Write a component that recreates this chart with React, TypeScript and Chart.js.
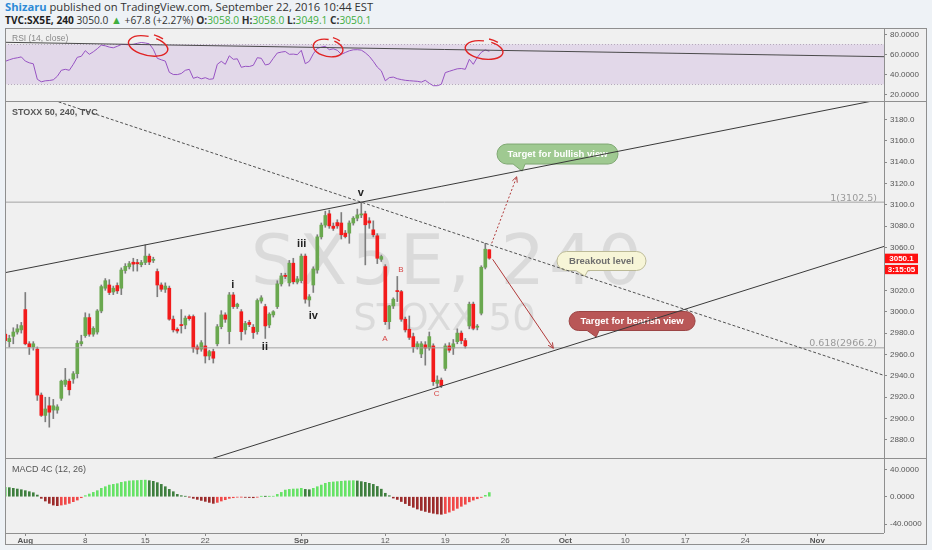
import React, { useEffect, useRef } from 'react';
import { Chart, registerables } from 'chart.js';

Chart.register(...registerables);

const FONT = '"Liberation Sans", Arial, sans-serif';
const DV = '"DejaVu Sans", Verdana, sans-serif';
const HEAD_FONT = '"Open Sans", "Liberation Sans", sans-serif';
Chart.defaults.font.family = FONT;

// ---------------- data ----------------
const START_INDEX = -5; // bar index of the first candle (Aug 1, first 4h bar = 0)

const OPEN = [2979, 2972, 2977, 2981, 2983,
  3002, 2970, 2967, 2965, 2922, 2903, 2912, 2908, 2908, 2919,
  2932, 2935, 2937, 2942, 2970, 2977.6, 2994.5, 2979, 2981, 3000.7,
  3022, 3025, 3018.5, 3024.5, 3022, 3038.5, 3042, 3046.3, 3046, 3044,
  3046, 3052, 3048, 3037.6, 3025, 3021, 3022, 2993, 2983.6, 2988,
  2987.6, 2995.5, 2995.5, 2967, 2965, 2968, 2958.6, 2962.7, 2970, 2986,
  2997, 2981.4, 3015.7, 3004.8, 3000, 2983, 2990, 2985.5, 2981.4, 3010,
  3004.8, 2987.6, 2997, 3004.8, 3026, 3034, 3027, 3045.4, 3027.7, 3029,
  3052, 3011, 3025, 3039, 3070, 3081, 3091.6, 3080, 3083.4, 3083,
  3073.5, 3073.5, 3083, 3087.5, 3090.5, 3091.6, 3085, 3076.6, 3071, 3049,
  3042.2, 2990.7, 3005.4, 3019.8, 3018.8, 2993, 2983.6, 2976.7, 2967.3, 2960.5,
  2969, 2966, 2968, 2933, 2936, 2947, 2968, 2966, 2972, 2980,
  2973, 2986.7, 3007, 2985.5, 2998.6, 3041.6, 3058];

const HIGH = [2983, 2978, 2985, 2988, 2990,
  3018, 2972, 2972, 2967, 2924, 2920, 2920, 2918, 2913, 2936,
  2947, 2937, 2944, 2973, 2978, 2999, 2998, 2986, 3002, 3025,
  3031, 3030, 3024, 3027, 3041, 3045, 3047, 3050, 3049, 3048,
  3062.5, 3054, 3051, 3040, 3027, 3027, 3024, 2996, 2985, 3002,
  2996, 2997, 2997, 2969, 2973, 2999, 2964, 2965, 2988, 3001,
  2999, 3018, 3018, 3008, 3002, 2991, 2992, 2988, 3012, 3015,
  3007, 2999, 3001, 3029, 3036, 3036, 3048, 3050, 3033, 3054,
  3054, 3016, 3042, 3072, 3083, 3094, 3095, 3083, 3086, 3092.8,
  3076, 3085, 3089, 3096, 3102.5, 3094, 3088, 3085, 3073, 3053,
  3044, 3006, 3013, 3033, 3020, 2995, 2996, 2980, 2972, 2972,
  2972, 2981, 2970, 2940, 2938, 2970, 2971, 2974, 2984, 2982,
  2975, 3009, 3009, 2988, 3043, 3064, 3058];

const LOW = [2970, 2967, 2970, 2979, 2980,
  2969, 2960, 2964, 2917, 2902, 2897, 2892, 2900, 2905, 2917,
  2930, 2922, 2933, 2938, 2968, 2976, 2977, 2977, 2979, 2999,
  3020, 3016, 3016, 3017, 3016, 3036, 3040, 3038, 3038, 3042,
  3044, 3044, 3046, 3014, 3019, 3018, 2992, 2981, 2980, 2980,
  2984, 2992, 2962, 2960.5, 2963, 2952, 2955, 2952, 2968, 2984,
  2990, 2970, 3003, 3003, 2973.5, 2979, 2986, 2975, 2979, 3008,
  2975, 2985, 2995, 3003, 3024, 3031, 3024, 3026, 3026, 3027,
  3008, 3005, 3018, 3036, 3068, 3079, 3078, 3076, 3078, 3068,
  3069, 3064, 3081, 3085, 3088, 3043.8, 3078, 3070, 3045, 3047,
  2988, 2984, 3003, 3009.5, 2991, 2981, 2974, 2962, 2965, 2957,
  2950, 2964, 2931, 2929, 2929, 2945, 2962, 2960, 2970, 2970,
  2966, 2984, 2983, 2983, 2997, 3040, 3049.1];

const CLOSE = [2973, 2975, 2981, 2984, 2987,
  2970, 2967, 2970, 2922, 2903, 2909, 2906, 2912, 2911, 2935,
  2936, 2927, 2942, 2970.5, 2972, 2994.5, 2979, 2984.5, 3000.7, 3023.5,
  3029, 3018, 3022, 3019.5, 3039, 3042.5, 3045, 3044.5, 3044.8, 3046,
  3052, 3046.5, 3049, 3025, 3021, 3024, 2993, 2983, 2982, 2987,
  2994, 2993.5, 2966, 2965, 2971, 2958.6, 2962.7, 2956.5, 2986, 2997,
  2993, 3015.7, 3004.8, 3007, 2981.4, 2989, 2988, 2980.5, 3010.5, 3013,
  2986.7, 2997.7, 3000, 3026, 3033.5, 3033, 3045.4, 3028, 3030.7, 3052,
  3011.7, 3014, 3040, 3070, 3081, 3090, 3080.3, 3078, 3080.3, 3072,
  3070.3, 3083, 3087.5, 3090.6, 3091.5, 3081.3, 3083, 3072, 3050, 3051.6,
  2990.7, 3005.4, 3011.7, 3018.8, 2993, 2983, 2976, 2967.3, 2970, 2970,
  2966, 2976.7, 2934.6, 2936, 2931, 2968, 2964, 2970, 2980, 2973,
  2968, 3007, 2984.5, 2986.5, 3041.6, 3058.5, 3050.1];

const RSI = [53, 54.5, 55.8, 56.5, 57.4,
  53.2, 51.5, 50.5, 35, 32.5, 33.5, 33.8, 34.5, 38, 44,
  45, 44, 50, 57, 58, 63.6, 60, 62.5, 65.6, 69.2,
  68.5, 67.2, 66.5, 68, 69.8, 69.8, 69.5, 70, 71, 71.8,
  71.3, 70.5, 65, 56, 54.5, 53.2, 42, 39.8, 39.7, 40.8,
  44, 45, 36, 37.3, 35.5, 36.6, 35, 35.5, 50, 53,
  50, 58.5, 55, 55.5, 47, 48, 47.8, 49, 56.6, 56,
  49.3, 50.3, 56, 61.3, 62.2, 62.8, 60, 60.2, 59.6, 64,
  50.6, 53, 60.5, 65.8, 67.2, 68, 64.6, 65.5, 64, 60,
  61.8, 63.5, 64.5, 64.6, 64.2, 61.5, 58, 53, 47.2, 43.5,
  33.5, 36.7, 37.2, 35.6, 34.7, 34, 33.6, 33.3, 33, 32.2,
  34, 31, 28.6, 28.6, 30, 41.7, 43, 44.3, 45.5, 45.8,
  45, 55, 50, 57, 62, 64.4, 63];

const MACD_HIST = [13.7, 13.2, 12.2, 11.2, 10.2,
  8.8, 7.3, 5.8, 2.4, -2.4, -6.3, -9.7, -12.2, -13.1, -12.2,
  -11.2, -9.7, -7.3, -4.9, -1.5, 1.5, 3.9, 6.3, 8.8, 12.2,
  14.6, 17, 18, 19, 21, 22, 23, 23.4, 23.6, 24,
  24.2, 23.4, 22.4, 20.5, 18, 14.6, 10.7, 7.3, 3.4, 1.5,
  0.5, -0.3, -2.4, -3.9, -5.4, -6.8, -8.3, -9.7, -8.3, -6.3,
  -4.4, -2.4, -1.5, -0.6, -0.5, -1, -1.2, -1.5, -0.6, 0.4,
  0.3, 0.4, 0.6, 3.4, 6.3, 9.7, 10.7, 11.2, 11.4, 12.2,
  10.7, 10.2, 12.2, 14.6, 17, 19.5, 21, 21.5, 22, 22.5,
  23, 23.2, 23.4, 23, 22, 21, 19.5, 18, 15, 11,
  5, 1.5, -2, -4, -7, -10, -13, -15.5, -18, -20,
  -21.5, -23, -24.2, -25.2, -25.7, -24.5, -22.5, -20, -17, -14,
  -11, -7.5, -5, -3, -1, 2, 6];

const PRICE_TICKS = [2880, 2900, 2920, 2940, 2960, 2980, 3000, 3020, 3040, 3060, 3080, 3100, 3120, 3140, 3160, 3180];
const RSI_TICKS = [20, 40, 60, 80];
const MACD_TICKS = [-40, 0, 40];
const DATE_TICK_INDEX = [0, 15, 30, 45, 69, 90, 105, 120, 135, 150, 165, 180, 198];
const DATE_TICK_LABELS = ['Aug', '8', '15', '22', 'Sep', '12', '19', '26', 'Oct', '10', '17', '24', 'Nov'];
const RSI_BAND = [30, 70];
const FIB_RATIOS = ['1', '0.618'];
const FIB_VALUES = [3102.5, 2966.2];

const HEADER_AUTHOR = 'Shizaru';
const HEADER_REST = ' published on TradingView.com, September 22, 2016 10:44 EST';
const SYMBOL = 'TVC:SX5E, 240';
const LAST_PRICE = '3050.0';
const CHANGE = '+67.8 (+2.27%)';
const COUNTDOWN = '3:15:05';
const WATERMARK = ['SX5E, 240', 'STOXX 50'];

// ---------------- drawings (data units) ----------------
const X_MIN = -5.075;
const X_MAX = 214.675;
const RSI_RANGE = [13.3, 86.3];
const PRICE_RANGE = [2863.15, 3197.12];
const MACD_RANGE = [-53.0, 56.5];

const CHANNEL_UPPER = [[-5.1, 3036.5], [214.7, 3199.3]];
const CHANNEL_LOWER = [[40, 2854.7], [214.7, 3061.1]];
const RESISTANCE = [[0, 3206.6], [214.7, 2940.4]];
const RSI_TREND = [[-5.1, 72.0], [214.7, 57.6]];
const ARROWS = [
  { from: [116.6, 3064.0], to: [122.85, 3126.3], dashed: true },
  { from: [116.85, 3049.0], to: [132.0, 2965.8], dashed: false },
];
const WAVE_LABELS = [
  { text: 'v', x: 83.85, y: 3110.8, red: false },
  { text: 'i', x: 51.85, y: 3025.0, red: false },
  { text: 'ii', x: 59.9, y: 2966.7, red: false },
  { text: 'iii', x: 69.1, y: 3063.3, red: false },
  { text: 'iv', x: 72.0, y: 2996.3, red: false },
  { text: 'A', x: 89.9, y: 2975.1, red: true },
  { text: 'B', x: 93.9, y: 3039.0, red: true },
  { text: 'C', x: 102.85, y: 2922.8, red: true },
];
const BALLOONS = [
  { text: 'Target for bullish view', x: 133.05, y: 3147.5, tipX: 124.2, tipY: 3131.5, w: 121, h: 20, fill: '#9fc991', stroke: '#7fa872', color: '#ffffff' },
  { text: 'Breakout level', x: 144.05, y: 3047.45, tipX: 139.9, tipY: 3033.3, w: 89, h: 19, fill: '#f7f5d7', stroke: '#bdbb97', color: '#6e6e6e' },
  { text: 'Target for bearish view', x: 151.7, y: 2991.3, tipX: 142.7, tipY: 2976.4, w: 126, h: 19, fill: '#b95757', stroke: '#9c4545', color: '#ffffff' },
];
const RSI_MARKS = [
  { x: 30.7, y: 68.3, rx: 20, ry: 9.5, rot: 0.22 },
  { x: 75.7, y: 66.3, rx: 15, ry: 8.5, rot: 0.2 },
  { x: 114.7, y: 64.3, rx: 19, ry: 9, rot: 0.15 },
];

const UP = '#6aa84f';
const DOWN = '#f21b1b';
const WICK = '#7d7d7d';
const ARROW_COLOR = '#b03a3a';

const BAR_INDEX = OPEN.map((_, i) => START_INDEX + i);

// ---------------- helpers ----------------
function lineDataset(points: number[][], color: string, dash: number[], order = 1) {
  return {
    type: 'line',
    data: points.map(([x, y]) => ({ x, y })),
    borderColor: color,
    borderWidth: 1,
    borderDash: dash,
    pointRadius: 0,
    fill: false,
    tension: 0,
    order,
  };
}

function xAxis(show: boolean) {
  return {
    type: 'linear',
    min: X_MIN,
    max: X_MAX,
    offset: false,
    display: show,
    grid: { display: show, drawOnChartArea: false, drawTicks: true, tickLength: 3, color: '#8a8a8a', offset: false },
    border: { display: false },
    afterBuildTicks: (s: any) => { s.ticks = DATE_TICK_INDEX.map((value) => ({ value })); },
    afterFit: (s: any) => {
      if (show) s.height = 12;
      s.paddingLeft = 0; s.paddingRight = 0; s.paddingTop = 0; s.paddingBottom = 0;
    },
    ticks: {
      autoSkip: false,
      maxRotation: 0,
      minRotation: 0,
      padding: 0,
      color: '#555',
      font: (c: any) => ({ family: FONT, size: 8, weight: /^\d/.test(DATE_TICK_LABELS[c.index] || '') ? 'normal' : 'bold' }),
      callback: (_v: any, i: number) => DATE_TICK_LABELS[i],
    },
  };
}

function yAxis(range: number[], ticks: number[], fmt: (v: number) => string) {
  return {
    type: 'linear',
    position: 'right',
    min: range[0],
    max: range[1],
    beginAtZero: false,
    grid: { drawOnChartArea: false, drawTicks: true, tickLength: 3, color: '#8a8a8a' },
    border: { display: false },
    afterBuildTicks: (s: any) => { s.ticks = ticks.map((value) => ({ value })); },
    afterFit: (s: any) => {
      s.width = 43;
      s.paddingTop = 0; s.paddingBottom = 0; s.paddingLeft = 0; s.paddingRight = 0;
    },
    ticks: { padding: 3, color: '#555', autoSkip: false, font: { family: FONT, size: 8 }, callback: (v: any) => fmt(Number(v)) },
  };
}

const baseOptions = {
  responsive: false,
  animation: false,
  events: [],
  layout: { padding: 0 },
  plugins: { legend: { display: false }, tooltip: { enabled: false } },
};

function drawBalloon(ctx: any, cx: number, cy: number, w: number, h: number, tx: number, ty: number, fill: string, stroke: string, text: string, color: string) {
  const l = cx - w / 2;
  const t = cy - h / 2;
  const b = cy + h / 2;
  const r = h / 2;
  ctx.beginPath();
  ctx.moveTo(l + r, t);
  ctx.lineTo(l + w - r, t);
  ctx.arc(l + w - r, cy, r, -Math.PI / 2, Math.PI / 2);
  ctx.lineTo(tx + 3, b);
  ctx.lineTo(tx, ty);
  ctx.lineTo(tx - 9, b);
  ctx.lineTo(l + r, b);
  ctx.arc(l + r, cy, r, Math.PI / 2, Math.PI * 1.5);
  ctx.closePath();
  ctx.fillStyle = fill;
  ctx.fill();
  ctx.strokeStyle = stroke;
  ctx.lineWidth = 1;
  ctx.stroke();
  ctx.fillStyle = color;
  ctx.font = `bold 9.5px ${FONT}`;
  ctx.textAlign = 'center';
  ctx.textBaseline = 'middle';
  ctx.fillText(text, cx, cy + 0.5);
}

// ---------------- plugins ----------------
const rsiPlugin = {
  id: 'rsiDecor',
  beforeDatasetsDraw(chart: any) {
    const { ctx, chartArea: a, scales } = chart;
    const y = scales.y;
    ctx.save();
    const yTop = y.getPixelForValue(RSI_BAND[1]);
    const yBot = y.getPixelForValue(RSI_BAND[0]);
    ctx.fillStyle = 'rgba(155, 95, 200, 0.16)';
    ctx.fillRect(a.left, yTop, a.right - a.left, yBot - yTop);
    ctx.strokeStyle = '#b5aabb';
    ctx.lineWidth = 1;
    ctx.setLineDash([1, 2]);
    [yTop, yBot].forEach((yy) => {
      ctx.beginPath();
      ctx.moveTo(a.left, Math.round(yy) + 0.5);
      ctx.lineTo(a.right, Math.round(yy) + 0.5);
      ctx.stroke();
    });
    ctx.setLineDash([]);
    ctx.fillStyle = '#888';
    ctx.font = `8.5px ${FONT}`;
    ctx.textAlign = 'left';
    ctx.textBaseline = 'middle';
    ctx.fillText('RSI (14, close)', a.left + 7, a.top + 10.7);
    ctx.restore();
  },
  afterDatasetsDraw(chart: any) {
    const { ctx, scales } = chart;
    ctx.save();
    ctx.strokeStyle = '#e02424';
    ctx.lineWidth = 1.4;
    RSI_MARKS.forEach((m) => {
      const cx = scales.x.getPixelForValue(m.x);
      const cy = scales.y.getPixelForValue(m.y);
      ctx.beginPath();
      ctx.ellipse(cx, cy, m.rx, m.ry, m.rot, -1.25, -1.25 + Math.PI * 2 - 0.4);
      ctx.stroke();
      ctx.beginPath();
      ctx.ellipse(cx + 1, cy - 1, m.rx + 1, m.ry + 1.5, m.rot, -1.45, -0.95);
      ctx.stroke();
    });
    ctx.restore();
  },
};

const mainPlugin = {
  id: 'mainDecor',
  beforeDatasetsDraw(chart: any) {
    const { ctx, chartArea: a, scales } = chart;
    const { x, y } = scales;
    ctx.save();
    const mid = (a.left + a.right) / 2;
    ctx.fillStyle = 'rgba(0,0,0,0.09)';
    ctx.textAlign = 'center';
    ctx.textBaseline = 'alphabetic';
    ctx.font = `70px ${DV}`;
    ctx.letterSpacing = '4px';
    ctx.fillText(WATERMARK[0], mid + 4, a.top + 183);
    ctx.letterSpacing = '0px';
    ctx.font = `37px ${DV}`;
    ctx.fillText(WATERMARK[1], mid, a.top + 229);

    ctx.fillStyle = '#555';
    ctx.font = `bold 9px ${FONT}`;
    ctx.textAlign = 'left';
    ctx.textBaseline = 'middle';
    ctx.fillText('STOXX 50, 240, TVC', a.left + 7, a.top + 11.7);

    BALLOONS.forEach((b) => {
      drawBalloon(ctx, x.getPixelForValue(b.x), y.getPixelForValue(b.y), b.w, b.h,
        x.getPixelForValue(b.tipX), y.getPixelForValue(b.tipY), b.fill, b.stroke, b.text, b.color);
    });
    ctx.restore();
  },
  afterDatasetsDraw(chart: any) {
    const { ctx, chartArea: a, scales } = chart;
    const { x, y } = scales;
    ctx.save();
    ctx.fillStyle = '#9a9a9a';
    ctx.font = `9.5px ${DV}`;
    ctx.textAlign = 'right';
    ctx.textBaseline = 'alphabetic';
    FIB_VALUES.forEach((v, i) => {
      ctx.fillText(`${FIB_RATIOS[i]}(${v.toFixed(1)})`, a.right - 7, y.getPixelForValue(v) - 1.5);
    });
    ctx.textAlign = 'center';
    ctx.textBaseline = 'middle';
    WAVE_LABELS.forEach((w) => {
      ctx.fillStyle = w.red ? '#d64545' : '#222';
      ctx.font = w.red ? `8px ${FONT}` : `bold 11px ${FONT}`;
      ctx.fillText(w.text, x.getPixelForValue(w.x), y.getPixelForValue(w.y));
    });
    ctx.strokeStyle = ARROW_COLOR;
    ctx.lineWidth = 1;
    ctx.setLineDash([]);
    ARROWS.forEach((ar) => {
      const x1 = x.getPixelForValue(ar.from[0]);
      const y1 = y.getPixelForValue(ar.from[1]);
      const x2 = x.getPixelForValue(ar.to[0]);
      const y2 = y.getPixelForValue(ar.to[1]);
      const ang = Math.atan2(y2 - y1, x2 - x1);
      ctx.beginPath();
      ctx.moveTo(x2 - 6 * Math.cos(ang - 0.45), y2 - 6 * Math.sin(ang - 0.45));
      ctx.lineTo(x2, y2);
      ctx.lineTo(x2 - 6 * Math.cos(ang + 0.45), y2 - 6 * Math.sin(ang + 0.45));
      ctx.stroke();
    });
    ctx.restore();
  },
  afterDraw(chart: any) {
    const { ctx, chartArea: a, scales } = chart;
    const last = CLOSE[CLOSE.length - 1];
    const py = scales.y.getPixelForValue(last);
    const bx = a.right + 1;
    ctx.save();
    ctx.fillStyle = '#ff1010';
    ctx.fillRect(bx, py - 4.5, 33, 9.5);
    ctx.fillRect(bx, py + 6.8, 33, 9.2);
    ctx.fillStyle = '#ffffff';
    ctx.font = `bold 8px ${FONT}`;
    ctx.textAlign = 'center';
    ctx.textBaseline = 'middle';
    ctx.fillText(last.toFixed(1), bx + 16.5, py + 0.4);
    ctx.fillText(COUNTDOWN, bx + 16.5, py + 11.6);
    ctx.restore();
  },
};

const macdPlugin = {
  id: 'macdDecor',
  beforeDatasetsDraw(chart: any) {
    const { ctx, chartArea: a } = chart;
    ctx.save();
    ctx.fillStyle = '#555';
    ctx.font = `9px ${FONT}`;
    ctx.textAlign = 'left';
    ctx.textBaseline = 'middle';
    ctx.fillText('MACD 4C (12, 26)', a.left + 7, a.top + 12);
    ctx.restore();
  },
};

// ---------------- configs ----------------
function rsiConfig(): any {
  return {
    type: 'line',
    data: {
      datasets: [
        lineDataset(RSI_TREND, '#4a4a4a', [], 1),
        {
          type: 'line',
          data: BAR_INDEX.map((x, i) => ({ x, y: RSI[i] })),
          borderColor: '#9652c2',
          borderWidth: 1,
          pointRadius: 0,
          fill: false,
          tension: 0,
          order: 2,
        },
      ],
    },
    options: {
      ...baseOptions,
      scales: { x: xAxis(false), y: yAxis(RSI_RANGE, RSI_TICKS, (v) => v.toFixed(4)) },
    },
    plugins: [rsiPlugin],
  };
}

function mainConfig(): any {
  const bodyColors = OPEN.map((o, i) => (CLOSE[i] >= o ? UP : DOWN));
  return {
    type: 'bar',
    data: {
      datasets: [
        lineDataset(CHANNEL_UPPER, '#3a3a3a', [], 1),
        lineDataset(CHANNEL_LOWER, '#3a3a3a', [], 1),
        lineDataset(RESISTANCE, '#505050', [3, 2], 1),
        ...FIB_VALUES.map((v) => lineDataset([[X_MIN, v], [X_MAX, v]], '#a3a3a3', [], 3)),
        ...ARROWS.map((ar) => lineDataset([ar.from, ar.to], ARROW_COLOR, ar.dashed ? [2, 2] : [], 1)),
        {
          type: 'bar',
          data: BAR_INDEX.map((x, i) => ({ x, y: [LOW[i], HIGH[i]] })),
          backgroundColor: WICK,
          barThickness: 1,
          grouped: false,
          order: 10,
        },
        {
          type: 'bar',
          data: BAR_INDEX.map((x, i) => ({ x, y: [OPEN[i], CLOSE[i]] })),
          backgroundColor: bodyColors,
          barThickness: 3,
          minBarLength: 1,
          grouped: false,
          order: 9,
        },
      ],
    },
    options: {
      ...baseOptions,
      scales: { x: xAxis(false), y: yAxis(PRICE_RANGE, PRICE_TICKS, (v) => v.toFixed(1)) },
    },
    plugins: [mainPlugin],
  };
}

function macdConfig(): any {
  const colors = MACD_HIST.map((v, i) => {
    const prev = i > 0 ? MACD_HIST[i - 1] : v;
    if (v >= 0) return v >= prev ? '#66e266' : '#3e7f3e';
    return v < prev ? '#9c2b2b' : '#f04848';
  });
  return {
    type: 'bar',
    data: {
      datasets: [
        {
          type: 'bar',
          data: BAR_INDEX.map((x, i) => ({ x, y: MACD_HIST[i] })),
          backgroundColor: colors,
          barThickness: 2,
          grouped: false,
        },
      ],
    },
    options: {
      ...baseOptions,
      scales: { x: xAxis(true), y: yAxis(MACD_RANGE, MACD_TICKS, (v) => v.toFixed(4)) },
    },
    plugins: [macdPlugin],
  };
}

// ---------------- component ----------------
const BORDER = '#8f8f8f';

export default function App() {
  const rsiRef = useRef<HTMLCanvasElement>(null);
  const mainRef = useRef<HTMLCanvasElement>(null);
  const macdRef = useRef<HTMLCanvasElement>(null);

  useEffect(() => {
    const charts = [
      new Chart(rsiRef.current as HTMLCanvasElement, rsiConfig()),
      new Chart(mainRef.current as HTMLCanvasElement, mainConfig()),
      new Chart(macdRef.current as HTMLCanvasElement, macdConfig()),
    ];
    return () => charts.forEach((c) => c.destroy());
  }, []);

  const last = OPEN.length - 1;
  const green = '#3fae3f';
  const abs = (l: number, t: number, w: number, h: number, extra: any = {}) => ({ position: 'absolute' as const, left: l, top: t, width: w, height: h, ...extra });

  return (
    <div style={{ position: 'fixed', left: 0, top: 0, width: 932, height: 550, background: '#eef2f6', overflow: 'hidden', fontFamily: FONT }}>
      <div style={{ position: 'absolute', left: 5, top: 0, fontSize: 11.2, lineHeight: '13px', color: '#333', whiteSpace: 'nowrap', fontFamily: HEAD_FONT }}>
        <span style={{ color: '#2d8ad6', fontWeight: 'bold' }}>{HEADER_AUTHOR}</span>{HEADER_REST}
      </div>
      <div style={{ position: 'absolute', left: 5, top: 12.5, fontSize: 10.2, lineHeight: '13px', color: '#333', whiteSpace: 'nowrap', fontFamily: HEAD_FONT }}>
        <b style={{ color: '#1e1e1e' }}>{SYMBOL}</b>{' '}{LAST_PRICE}{' '}
        <span style={{ color: green, fontSize: 11 }}>▲</span>{' '}{CHANGE}{' '}
        <b>O:</b><span style={{ color: green }}>{OPEN[last].toFixed(1)}</span>{' '}
        <b>H:</b><span style={{ color: green }}>{HIGH[last].toFixed(1)}</span>{' '}
        <b>L:</b><span style={{ color: green }}>{LOW[last].toFixed(1)}</span>{' '}
        <b>C:</b><span style={{ color: green }}>{CLOSE[last].toFixed(1)}</span>
      </div>

      <div style={abs(5, 28, 922, 517, { background: '#f0f0f0' })} />
      <canvas ref={rsiRef} width={922} height={73} style={abs(5, 28, 922, 73, { display: 'block' })} />
      <canvas ref={mainRef} width={922} height={357} style={abs(5, 101, 922, 357, { display: 'block' })} />
      <canvas ref={macdRef} width={922} height={87} style={abs(5, 458, 922, 87, { display: 'block' })} />

      <div style={abs(5, 28, 922, 517, { border: `1px solid ${BORDER}`, boxSizing: 'border-box', pointerEvents: 'none' })} />
      <div style={abs(5, 101, 922, 1, { background: BORDER })} />
      <div style={abs(5, 458, 922, 1, { background: BORDER })} />
      <div style={abs(5, 533, 879, 1, { background: BORDER })} />
      <div style={abs(884, 28, 1, 505, { background: BORDER })} />
    </div>
  );
}
